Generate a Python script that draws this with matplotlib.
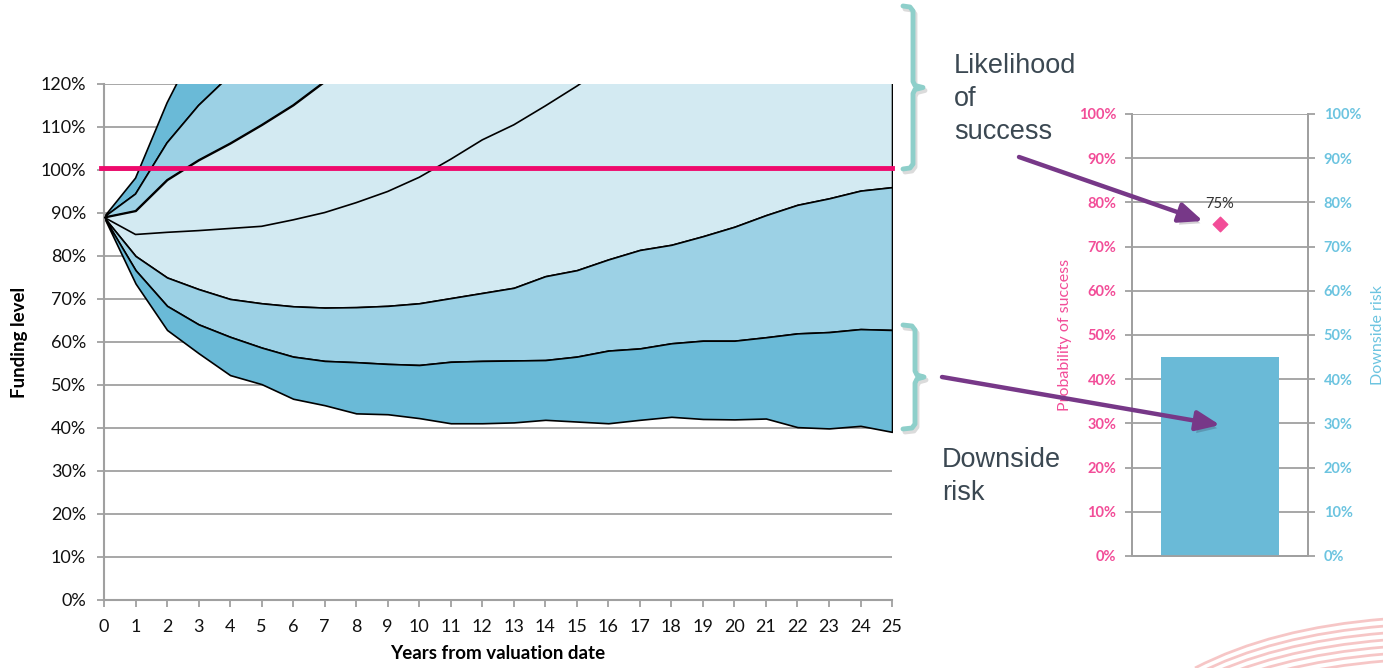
import numpy as np
import matplotlib.pyplot as plt
import matplotlib.patheffects as pe
from matplotlib.patches import FancyArrowPatch, ArrowStyle
from matplotlib.path import Path
from matplotlib.patches import PathPatch
from matplotlib.ticker import PercentFormatter

# Funding level projections (% funded) by year, percentiles from high to low
years = np.arange(0, 26)
p95 = [89, 98.1, 115.6, 130, 143, 156, 168, 180, 191, 202, 213, 224, 235,
       246, 257, 268, 279, 290, 300, 310, 320, 330, 340, 350, 360, 370]
p90 = [89, 94.4, 106.3, 115, 122, 129, 136, 143, 150, 157, 164, 171, 178,
       185, 192, 199, 206, 213, 220, 227, 234, 241, 248, 255, 262, 269]
p75 = [89, 90.5, 97.7, 102.3, 106.2, 110.5, 115.1, 120.6, 126, 131.5, 137,
       142.5, 148, 153.5, 159, 164.5, 170, 175.5, 181, 186.5, 192, 197.5,
       203, 208.5, 214, 219.5]
p50 = [89, 85, 85.5, 85.9, 86.4, 86.9, 88.4, 90.1, 92.4, 95, 98.3, 102.5,
       107, 110.5, 114.9, 119.5, 124.5, 129.5, 134.5, 139.5, 144.5, 149.5,
       154.5, 159.5, 164.5, 169.5]
p25 = [89, 80, 75, 72.3, 70, 69, 68.3, 68, 68.1, 68.4, 69, 70.2, 71.4, 72.6,
       75.3, 76.7, 79.2, 81.4, 82.6, 84.6, 86.8, 89.5, 91.9, 93.4, 95.2, 96]
p10 = [89, 76.7, 68.4, 64.1, 61.2, 58.7, 56.6, 55.6, 55.3, 54.9, 54.65, 55.4,
       55.6, 55.7, 55.8, 56.6, 58, 58.5, 59.7, 60.3, 60.3, 61.1, 62, 62.3,
       63, 62.8]
p5 = [89, 73.6, 62.8, 57.4, 52.3, 50.2, 46.8, 45.3, 43.4, 43.2, 42.3, 41.1,
      41.1, 41.3, 41.9, 41.5, 41.1, 41.9, 42.6, 42.1, 42, 42.2, 40.2, 39.9,
      40.5, 39.1]
target_level = 100.5

# Summary measures
prob_success = 75
downside_risk = 45

DARK = '#6ABAD7'
MID = '#9CD1E5'
LIGHT = '#D3EAF2'
GRID = '#A0A0A0'
PINK_LINE = '#EE0A6C'
PINK = '#F24D98'
SKY = '#6CC4E0'
PURPLE = '#773888'
TEAL = '#8ECFCA'
TEXT = '#3B4852'

plt.rcParams['font.family'] = ['Lato', 'DejaVu Sans']

fig = plt.figure(figsize=(13.83, 6.68), dpi=100)

# ---- fan chart ----
ax = fig.add_axes([0.0752, 0.1018, 0.5698, 0.7725])
bands = [(p95, p90, DARK), (p90, p75, MID), (p75, p25, LIGHT),
         (p25, p10, MID), (p10, p5, DARK)]
for upper, lower, col in bands:
    ax.fill_between(years, upper, lower, facecolor=col, edgecolor='black',
                    linewidth=1.2, zorder=2)
ax.plot(years, p50, color='black', linewidth=1.2, zorder=3)
ax.plot([-0.1, 25], [target_level, target_level], color=PINK_LINE,
        linewidth=3.5, zorder=4, clip_on=False)

ax.set_xlim(0, 25)
ax.set_ylim(0, 120)
ax.set_xticks(years)
ax.set_yticks(np.arange(0, 121, 10))
ax.yaxis.set_major_formatter(PercentFormatter(decimals=0))
ax.grid(axis='y', color=GRID, linewidth=1.3)
ax.set_axisbelow(True)
for s in ['top', 'right']:
    ax.spines[s].set_visible(False)
for s in ['left', 'bottom']:
    ax.spines[s].set_color(GRID)
    ax.spines[s].set_linewidth(1.5)
ax.tick_params(axis='y', colors=GRID, labelcolor='#111111', length=5,
               width=1.3, pad=8, labelsize=13)
ax.tick_params(axis='x', colors=GRID, labelcolor='#111111', length=5,
               width=1.3, pad=9, labelsize=13)
ax.set_ylabel('Funding level', fontsize=13.5, fontweight='bold', labelpad=9)
ax.set_xlabel('Years from valuation date', fontsize=13.5, fontweight='bold',
              labelpad=7)

# ---- success / risk summary ----
ax2 = fig.add_axes([0.8183, 0.1677, 0.1277, 0.6617])
ax3 = ax2.twinx()
ax3.bar(0, downside_risk, width=0.664, color=DARK, zorder=2)
ax2.scatter(0, prob_success, marker='D', s=55, color=PINK, zorder=5)
ax2.annotate(f'{prob_success}%', (0, prob_success), xytext=(0, 10),
             textcoords='offset points', ha='center', va='bottom',
             fontsize=10.5, color='#333333')
for a, col in [(ax2, PINK), (ax3, SKY)]:
    a.set_xlim(-0.5, 0.5)
    a.set_ylim(0, 100)
    a.set_yticks(np.arange(0, 101, 10))
    a.yaxis.set_major_formatter(PercentFormatter(decimals=0))
    a.tick_params(axis='y', colors=GRID, labelcolor=col, length=5, width=1.3,
                  labelsize=10.5, pad=6)
    for lbl in a.get_yticklabels():
        lbl.set_fontweight('bold')
    for s in a.spines.values():
        s.set_color(GRID)
        s.set_linewidth(1.3)
    a.spines['top'].set_visible(False)
ax2.set_xticks([-0.5, 0.5])
ax2.set_xticklabels([])
ax2.tick_params(axis='x', colors=GRID, length=4, width=1.3)
ax3.set_xticks([])
ax2.grid(axis='y', color=GRID, linewidth=1.3)
ax2.set_axisbelow(True)
ax2.set_ylabel('Probability of success', color=PINK, fontsize=11.5,
               labelpad=5)
ax3.set_ylabel('Downside risk', color=SKY, fontsize=11.5, labelpad=7)

# ---- callouts drawn in pixel space ----
ov = fig.add_axes([0, 0, 1, 1], zorder=10)
ov.set_xlim(0, 1383)
ov.set_ylim(668, 0)
ov.axis('off')
ov.patch.set_visible(False)


def brace(top, bottom, x=913, tip=923, hook=903):
    mid = (top + bottom) / 2
    pts = [(hook, top), (x - 3, top + 1), (x, top + 5), (x, mid - 6),
           (x + 2, mid - 2), (tip, mid), (x + 2, mid + 2), (x, mid + 6),
           (x, bottom - 5), (x - 3, bottom - 1), (hook, bottom)]
    xs, ys = zip(*pts)
    ov.plot(np.array(xs) + 2, np.array(ys) + 3, color='#9A9A9A', alpha=0.35,
            linewidth=3.5, solid_joinstyle='round', solid_capstyle='round')
    ov.plot(xs, ys, color=TEAL, linewidth=3.5, solid_joinstyle='round',
            solid_capstyle='round')


brace(6, 169)
brace(325, 429, x=915, tip=924)

for x0, y0, word in [(954, 73, 'Likelihood'), (954, 106, 'of'),
                     (954, 139, 'success'), (942, 467, 'Downside'),
                     (942, 500, 'risk')]:
    ov.text(x0, y0, word, fontsize=19.5, color=TEXT,
            family='Liberation Sans', va='baseline')

head = ArrowStyle('-|>', head_length=1.3, head_width=0.55)
for start, end in [((1019, 157), (1203, 221)), ((942, 377), (1220, 425))]:
    arr = FancyArrowPatch(start, end, arrowstyle=head, mutation_scale=11,
                          color=PURPLE, linewidth=3.2, shrinkA=0, shrinkB=0,
                          path_effects=[pe.withSimplePatchShadow(
                              offset=(2, -3), alpha=0.2)])
    ov.add_patch(arr)

# faint decorative swoosh lines in the corner
for i in range(7):
    verts = [(1195, 668 + 7 * i), (1272, 628 + 7 * i), (1385, 619 + 7 * i)]
    path = Path(verts, [Path.MOVETO, Path.CURVE3, Path.CURVE3])
    ov.add_patch(PathPatch(path, facecolor='none', edgecolor='#F4B4B4',
                           linewidth=2, alpha=0.75))

fig.savefig('out.png', dpi=100)
